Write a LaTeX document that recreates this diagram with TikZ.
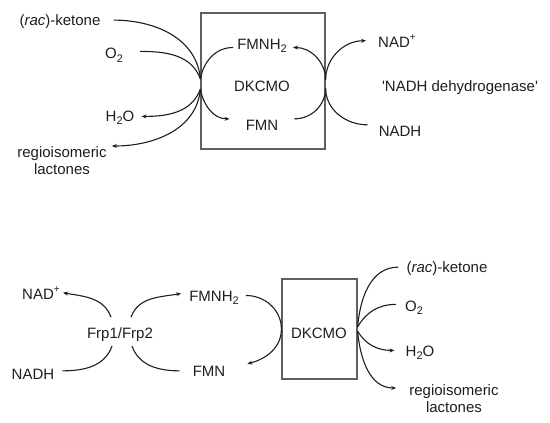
\documentclass[tikz,border=0pt]{standalone}
\usepackage{fontspec}
\setmainfont{Liberation Sans}
\usepackage{xcolor}
\usepackage{tikz}
\usetikzlibrary{arrows.meta, calc}
\definecolor{ink}{RGB}{30, 30, 30}
\definecolor{frame}{RGB}{95, 95, 95}
\newcommand{\lowidx}[1]{\raisebox{-0.22em}{\fontsize{11}{11}\selectfont #1}}
\newcommand{\highidx}[1]{\raisebox{0.45em}{\fontsize{10}{10}\selectfont #1}}

\begin{document}
\begin{tikzpicture}[
    x=1pt, y=1pt,
    lbl/.style={inner sep=0pt, anchor=base, text=ink, font=\fontsize{15}{17}\selectfont},
    enzbox/.style={draw=frame, line width=1.2pt, inner sep=0pt},
    flow/.style={line width=1.1pt, ink},
    conv/.style={flow, -{Stealth[length=5pt, width=4pt]}}
]
\useasboundingbox (0,0) rectangle (550,-423);

\node[enzbox, minimum width=124pt, minimum height=136pt] (boxA) at (263,-81) {};
\node[lbl] (dkcmoA) at (262,-92) {DKCMO};
\node[lbl] (fmnhA) at (262,-49) {FMNH\lowidx{2}};
\node[lbl] (fmnA) at (262,-130) {FMN};
\node[lbl] (ketoneA) at (60,-25) {(\textit{rac})-ketone};
\node[lbl] (oxyA) at (114,-59) {O\lowidx{2}};
\node[lbl] (waterA) at (120,-121) {H\lowidx{2}O};
\node[lbl, anchor=north, align=center] (lactA) at (62,-146) {regioisomeric\\lactones};
\node[lbl] (nadpA) at (397,-47) {NAD\highidx{+}};
\node[lbl] (dehydA) at (460,-92) {\textquotesingle NADH dehydrogenase\textquotesingle};
\node[lbl] (nadhA) at (400,-136) {NADH};

\coordinate (inA) at ([yshift=2pt]boxA.west);
\coordinate (outA) at ([yshift=-8pt]boxA.west);
\coordinate (upA) at ([yshift=1pt]boxA.east);
\coordinate (dnA) at ([yshift=-7pt]boxA.east);

\draw[flow] ([shift={(13pt,1pt)}]ketoneA.east) to[out=0, in=95] (inA);
\draw[flow] ([shift={(17pt,4pt)}]oxyA.east) to[out=0, in=110] (inA);
\draw[conv] (outA) to[out=-110, in=0] ([shift={(7pt,1pt)}]waterA.east);
\draw[conv] (outA) to[out=-95, in=0] ([xshift=5pt]lactA.north east);
\draw[flow] ([shift={(-4pt,-2pt)}]fmnhA.west) to[out=180, in=80] (inA);
\draw[conv] (outA) to[out=-80, in=180] ([shift={(-16pt,6pt)}]fmnA.west);
\draw[conv] (upA) to[out=90, in=180] ([xshift=-12pt]nadpA.west);
\draw[conv] (upA) to[out=90, in=0] ([shift={(6pt,-2pt)}]fmnhA.east);
\draw[flow] ([shift={(16pt,6pt)}]fmnA.east) to[out=0, in=-90] (dnA);
\draw[flow] ([shift={(-11pt,6pt)}]nadhA.west) to[out=180, in=-90] (dnA);

\node[enzbox, minimum width=75pt, minimum height=100pt] (boxB) at (319.5,-329) {};
\node[lbl] (dkcmoB) at (319,-338) {DKCMO};
\node[lbl] (frpB) at (120,-338) {Frp1/Frp2};
\node[lbl] (nadpB) at (41,-299) {NAD\highidx{+}};
\node[lbl] (nadhB) at (33,-379) {NADH};
\node[lbl] (fmnhB) at (214,-301) {FMNH\lowidx{2}};
\node[lbl] (fmnB) at (209,-376) {FMN};
\node[lbl] (ketoneB) at (447,-272) {(\textit{rac})-ketone};
\node[lbl] (oxyB) at (414,-311) {O\lowidx{2}};
\node[lbl] (waterB) at (420,-356) {H\lowidx{2}O};
\node[lbl, anchor=north, align=center] (lactB) at (454,-384) {regioisomeric\\lactones};

\coordinate (inB) at ([yshift=2pt]boxB.east);
\coordinate (outB) at ([yshift=-2pt]boxB.east);

\draw[conv] ([shift={(-9pt,17pt)}]frpB.center) to[out=110, in=-10] ([xshift=3pt]nadpB.east);
\draw[conv] ([shift={(11pt,17pt)}]frpB.center) to[out=70, in=190] ([shift={(-8pt,4pt)}]fmnhB.west);
\draw[flow] ([shift={(8pt,3pt)}]nadhB.east) to[out=0, in=-110] ([shift={(-8pt,-12pt)}]frpB.center);
\draw[flow] ([xshift=-13pt]fmnB.west) to[out=180, in=-70] ([shift={(12pt,-12pt)}]frpB.center);
\draw[conv] ([shift={(7pt,2pt)}]fmnhB.east) to[out=0, in=90] (boxB.west) to[out=-90, in=15] ([shift={(22pt,7pt)}]fmnB.east);
\draw[flow] ([shift={(-8pt,1pt)}]ketoneB.west) to[out=180, in=85] (inB);
\draw[flow] ([shift={(-9pt,3pt)}]oxyB.west) to[out=180, in=60] (inB);
\draw[conv] (outB) to[out=-60, in=180] ([shift={(-11pt,2pt)}]waterB.west);
\draw[conv] (outB) to[out=-85, in=180] ([shift={(-13pt,-4pt)}]lactB.north west);

\end{tikzpicture}
\end{document}
